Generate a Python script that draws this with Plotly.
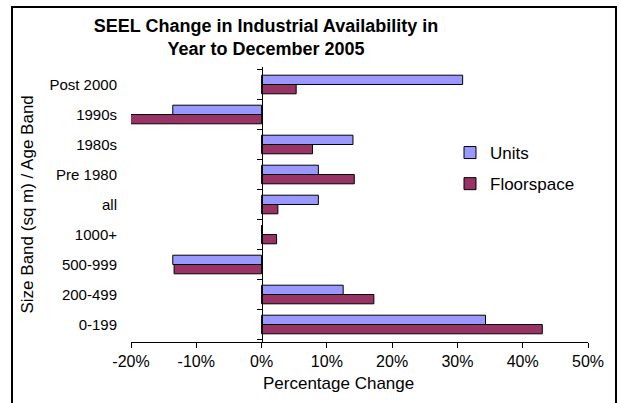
import plotly.graph_objects as go

categories = ["0-199", "200-499", "500-999", "1000+", "all", "Pre 1980", "1980s", "1990s", "Post 2000"]
units = [34.3, 12.5, -13.6, 0.0, 8.7, 8.7, 14.0, -13.6, 30.8]
floorspace = [43.0, 17.2, -13.4, 2.3, 2.5, 14.2, 7.8, -20.5, 5.3]
tick_vals = [-20, -10, 0, 10, 20, 30, 40, 50]
tick_labels = ["-20%", "-10%", "0%", "10%", "20%", "30%", "40%", "50%"]

FONT = "Arial, Liberation Sans, sans-serif"

# plot-area geometry in pixels (for paper conversions)
W, H = 619, 403
L, R, T, B = 131, 31, 67, 61
PW, PH = W - L - R, H - T - B

def px_x(x):
    return (x - L) / PW

def px_y(y):
    return (H - B - y) / PH

fig = go.Figure()
fig.add_trace(go.Bar(
    y=categories, x=floorspace, orientation="h", name="Floorspace",
    marker=dict(color="#993366", line=dict(color="black", width=1)),
    legendgroup="f", legendrank=2,
))
fig.add_trace(go.Bar(
    y=categories, x=units, orientation="h", name="Units",
    marker=dict(color="#9999FF", line=dict(color="black", width=1)),
    legendgroup="u", legendrank=1,
))
# invisible helper for the category axis drawn at x = 0
fig.add_trace(go.Scatter(
    y=categories, x=[0] * len(categories), yaxis="y2", mode="markers",
    marker=dict(opacity=0), showlegend=False, hoverinfo="skip",
))

fig.update_layout(
    width=W, height=H,
    margin=dict(l=L, r=R, t=T, b=B),
    paper_bgcolor="white", plot_bgcolor="white",
    font=dict(family=FONT, color="black"),
    barmode="group", bargap=0.38, bargroupgap=0,
    title=dict(
        text="<b>SEEL Change in Industrial Availability in<br>Year to December 2005</b>",
        x=266 / W, xref="container", xanchor="center",
        y=1 - 32 / H, yref="container", yanchor="top",
        font=dict(size=18, family=FONT, color="black"),
    ),
    xaxis=dict(
        range=[-20, 50], tickvals=tick_vals, ticktext=tick_labels,
        showgrid=False, zeroline=False, showline=True, linecolor="black", linewidth=1,
        ticks="outside", ticklen=5, tickcolor="black",
        tickfont=dict(size=16, family=FONT, color="black"),
        fixedrange=True,
    ),
    yaxis=dict(
        categoryorder="array", categoryarray=categories,
        showgrid=False, zeroline=False, showline=False, ticks="",
        tickfont=dict(size=15, family=FONT, color="black"),
        ticklabelstandoff=13,
    ),
    yaxis2=dict(
        overlaying="y", matches="y", anchor="free", position=20 / 70,
        categoryorder="array", categoryarray=categories,
        showgrid=False, zeroline=False, showline=True, linecolor="black", linewidth=1,
        ticks="outside", ticklen=5, tickcolor="black", tickson="boundaries",
        showticklabels=False,
    ),
    legend=dict(
        x=px_x(450), y=px_y(135), xanchor="left", yanchor="top",
        traceorder="grouped", tracegroupgap=6,
        font=dict(size=17, family=FONT, color="black"),
        bgcolor="rgba(0,0,0,0)",
    ),
    showlegend=True,
    annotations=[
        dict(text="Percentage Change", x=px_x(338), y=px_y(383), xref="paper", yref="paper",
             xanchor="center", yanchor="middle", showarrow=False,
             font=dict(size=17, family=FONT, color="black")),
        dict(text="Size Band (sq m) / Age Band", x=px_x(27), y=0.5, xref="paper", yref="paper",
             xanchor="center", yanchor="middle", showarrow=False, textangle=-90,
             font=dict(size=17, family=FONT, color="black")),
    ],
    shapes=[
        dict(type="rect", xref="paper", yref="paper",
             x0=px_x(12), x1=px_x(616), y0=px_y(410), y1=px_y(7),
             line=dict(color="black", width=2), fillcolor="rgba(0,0,0,0)", layer="above"),
    ],
)

fig.write_html(
    "out.html",
    config={"displayModeBar": False},
    post_script="document.body.style.margin='0';document.body.style.overflow='hidden';",
)
